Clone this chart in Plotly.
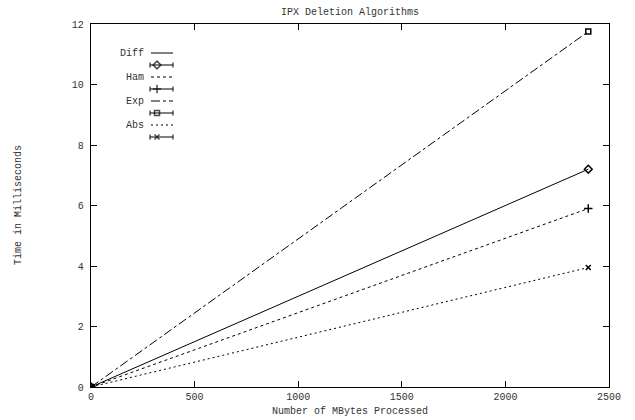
import plotly.graph_objects as go

# Data
series_names = ["Diff", "Ham", "Exp", "Abs"]
x_vals = [0, 2400]
diff_vals = [0, 7.2]
ham_vals = [0, 5.9]
exp_vals = [0, 11.75]
abs_vals = [0, 3.95]

x_ticks = [0, 500, 1000, 1500, 2000, 2500]
y_ticks = [0, 2, 4, 6, 8, 10, 12]

styles = {
    "Diff": dict(dash="solid", symbol="diamond-open", size=6),
    "Ham": dict(dash="3px,3px", symbol="cross-thin-open", size=6),
    "Exp": dict(dash="dashdot", symbol="square-open", size=5),
    "Abs": dict(dash="2px,3px", symbol="x-thin-open", size=5),
}
values = {"Diff": diff_vals, "Ham": ham_vals, "Exp": exp_vals, "Abs": abs_vals}

FONT = "Liberation Mono, Courier New, monospace"
TXT = "#333333"

fig = go.Figure()
for name in series_names:
    st = styles[name]
    fig.add_trace(go.Scatter(
        x=x_vals, y=values[name], mode="lines+markers", name=name,
        line=dict(color="black", width=1, dash=st["dash"]),
        marker=dict(symbol=st["symbol"], size=st["size"], color="black",
                    line=dict(color="black", width=1.5)),
        showlegend=False,
    ))

# Layout geometry
W, H = 635, 420
L, R, T, B = 91, 26, 24, 33
pw, ph = W - L - R, H - T - B

def px(xp):
    return (xp - L) / pw

def py(yp):
    return (H - B - yp) / ph

shapes = []
annotations = []
leg_y0 = 53
step = 12
for i, name in enumerate(series_names):
    st = styles[name]
    y_line = leg_y0 + i * 2 * step
    y_err = y_line + step
    annotations.append(dict(
        x=px(146), y=py(y_line), xref="paper", yref="paper",
        text=name, showarrow=False, xanchor="right", yanchor="middle",
        font=dict(family=FONT, size=10, color=TXT),
    ))
    shapes.append(dict(type="line", xref="paper", yref="paper",
                       x0=px(151), x1=px(173), y0=py(y_line), y1=py(y_line),
                       line=dict(color="black", width=1, dash=st["dash"])))
    shapes.append(dict(type="line", xref="paper", yref="paper",
                       x0=px(150), x1=px(173), y0=py(y_err), y1=py(y_err),
                       line=dict(color="black", width=1)))
    for xc in (150, 173):
        shapes.append(dict(type="line", xref="paper", yref="paper",
                           x0=px(xc), x1=px(xc), y0=py(y_err - 2.5), y1=py(y_err + 2.5),
                           line=dict(color="black", width=1)))

# axis titles and chart title
annotations.append(dict(x=px(350), y=py(411), xref="paper", yref="paper",
                        text="Number of MBytes Processed", showarrow=False,
                        xanchor="center", yanchor="middle",
                        font=dict(family=FONT, size=10, color=TXT)))
annotations.append(dict(x=px(18), y=py(205), xref="paper", yref="paper",
                        text="Time in Milliseconds", showarrow=False, textangle=-90,
                        xanchor="center", yanchor="middle",
                        font=dict(family=FONT, size=10, color=TXT)))
annotations.append(dict(x=px(350), y=py(12), xref="paper", yref="paper",
                        text="IPX Deletion Algorithms", showarrow=False,
                        xanchor="center", yanchor="middle",
                        font=dict(family=FONT, size=10, color=TXT)))

leg_x = []
leg_y = []
leg_sym = []
leg_size = []
for i, name in enumerate(series_names):
    y_err = leg_y0 + i * 2 * step + step
    leg_x.append(px(157))
    leg_y.append(py(y_err))
    leg_sym.append(styles[name]["symbol"])
    leg_size.append(styles[name]["size"])
fig.add_trace(go.Scatter(
    x=leg_x, y=leg_y, mode="markers", xaxis="x2", yaxis="y2",
    marker=dict(symbol=leg_sym, size=leg_size, color="black",
                line=dict(color="black", width=1.5)),
    showlegend=False, hoverinfo="skip",
))

axis_common = dict(
    showline=True, linecolor="black", linewidth=1.3, mirror="ticks",
    ticks="inside", ticklen=6, tickcolor="black", showgrid=False,
    zeroline=False, automargin=False,
    tickfont=dict(family=FONT, size=10, color=TXT),
)

fig.update_layout(
    width=W, height=H,
    margin=dict(l=L, r=R, t=T, b=B, autoexpand=False),
    paper_bgcolor="white", plot_bgcolor="white",
    font=dict(family=FONT, size=10, color=TXT),
    xaxis=dict(range=[0, 2500], tickvals=x_ticks, ticklabelstandoff=0, **axis_common),
    yaxis=dict(range=[0, 12], tickvals=y_ticks, ticklabelstandoff=4, **axis_common),
    xaxis2=dict(range=[0, 1], overlaying="x", visible=False, domain=[0, 1]),
    yaxis2=dict(range=[0, 1], overlaying="y", visible=False),
    shapes=shapes,
    annotations=annotations,
)

fig.write_html("out.html")
